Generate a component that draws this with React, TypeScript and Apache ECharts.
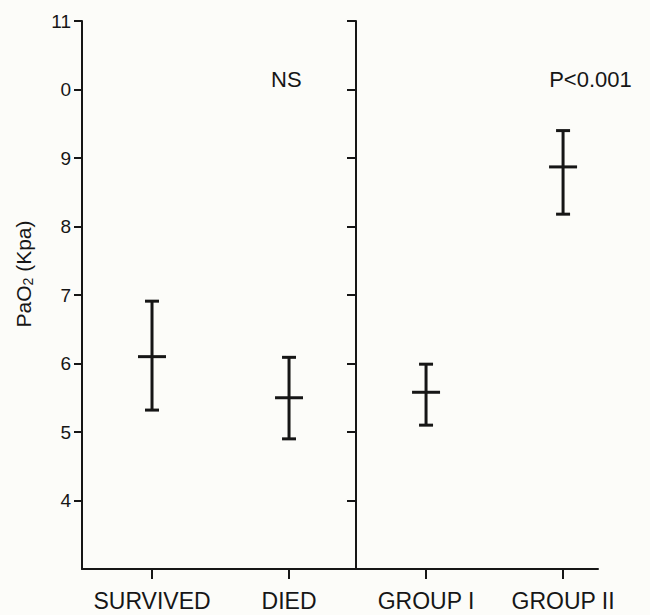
import React, { useEffect, useRef } from "react";
import * as echarts from "echarts";

const categories = ["SURVIVED", "DIED", "GROUP I", "GROUP II"];
const categoryPositions = [1, 2, 3, 4];
const means = [6.1, 5.5, 5.58, 8.87];
const lows = [5.32, 4.9, 5.1, 8.18];
const highs = [6.91, 6.09, 5.99, 9.4];
const yTickValues = [4, 5, 6, 7, 8, 9, 10, 11];
const yTickLabels = ["4", "5", "6", "7", "8", "9", "0", "11"];
const annotations = [
  { text: "NS", x: 1.98, y: 10.14 },
  { text: "P<0.001", x: 4.2, y: 10.14 },
];

const FONT = "'Liberation Sans', Arial, Helvetica, sans-serif";
const INK = "#161616";

export default function App() {
  const ref = useRef<HTMLDivElement>(null);
  useEffect(() => {
    if (!ref.current) return;
    const chart = echarts.init(ref.current, null, { renderer: "svg" });
    const data = categoryPositions.map((x, i) => [x, means[i], lows[i], highs[i]]);
    chart.setOption({
      animation: false,
      backgroundColor: "#fcfcf9",
      grid: { left: 82, top: 21, right: 52, bottom: 46 },
      xAxis: {
        type: "value",
        min: 0.489,
        max: 4.255,
        splitLine: { show: false },
        axisLine: { show: true, lineStyle: { color: INK, width: 2 } },
        axisTick: {
          show: true,
          customValues: categoryPositions,
          length: 10,
          lineStyle: { color: INK, width: 2 },
        },
        axisLabel: {
          customValues: categoryPositions,
          formatter: (v: number) => categories[Math.round(v) - 1] ?? "",
          color: INK,
          fontSize: 23,
          fontFamily: FONT,
          margin: 20,
        },
      },
      yAxis: [
        {
          type: "value",
          min: 3,
          max: 11,
          interval: 1,
          position: "left",
          splitLine: { show: false },
          axisLine: { show: true, lineStyle: { color: INK, width: 2 } },
          axisTick: {
            show: true,
            customValues: yTickValues,
            length: 8,
            lineStyle: { color: INK, width: 2 },
          },
          axisLabel: {
            customValues: yTickValues,
            formatter: (v: number) => yTickLabels[yTickValues.indexOf(v)] ?? "",
            color: INK,
            fontSize: 19,
            fontFamily: FONT,
            margin: 11,
          },
        },
        {
          type: "value",
          min: 3,
          max: 11,
          interval: 1,
          position: "left",
          offset: -274,
          splitLine: { show: false },
          axisLine: { show: true, lineStyle: { color: INK, width: 2 } },
          axisTick: {
            show: true,
            customValues: yTickValues,
            length: 9,
            lineStyle: { color: INK, width: 2 },
          },
          axisLabel: { show: false },
        },
      ],
      series: [
        {
          type: "custom",
          xAxisIndex: 0,
          yAxisIndex: 0,
          data,
          renderItem: (params: any, api: any) => {
            const x = api.value(0);
            const m = api.coord([x, api.value(1)]);
            const lo = api.coord([x, api.value(2)]);
            const hi = api.coord([x, api.value(3)]);
            const style = { stroke: INK, lineWidth: 3 };
            const capHalf = 7;
            const meanHalf = 14;
            return {
              type: "group",
              children: [
                { type: "line", shape: { x1: lo[0], y1: lo[1], x2: hi[0], y2: hi[1] }, style },
                { type: "line", shape: { x1: hi[0] - capHalf, y1: hi[1], x2: hi[0] + capHalf, y2: hi[1] }, style },
                { type: "line", shape: { x1: lo[0] - capHalf, y1: lo[1], x2: lo[0] + capHalf, y2: lo[1] }, style },
                { type: "line", shape: { x1: m[0] - meanHalf, y1: m[1], x2: m[0] + meanHalf, y2: m[1] }, style },
              ],
            };
          },
        },
      ],
    });
    const texts: any[] = annotations.map((a) => {
      const p = chart.convertToPixel({ xAxisIndex: 0, yAxisIndex: 0 }, [a.x, a.y]) as number[];
      return {
        type: "text",
        x: p[0],
        y: p[1],
        style: {
          text: a.text,
          fill: INK,
          fontSize: 22,
          fontFamily: FONT,
          align: "center",
          verticalAlign: "middle",
        },
      };
    });
    texts.push({
      type: "text",
      x: 23,
      y: 274,
      rotation: Math.PI / 2,
      style: {
        text: "{a|PaO}{s|2}{a| (Kpa)}",
        align: "center",
        verticalAlign: "middle",
        rich: {
          a: { fontSize: 21, fontFamily: FONT, fill: INK, color: INK },
          s: { fontSize: 14, fontFamily: FONT, fill: INK, color: INK, padding: [10, 0, 0, 0] },
        },
      },
    });
    chart.setOption({ graphic: texts });
    return () => chart.dispose();
  }, []);
  return (
    <div
      ref={ref}
      style={{ position: "absolute", left: 0, top: 0, width: 650, height: 615 }}
    />
  );
}
